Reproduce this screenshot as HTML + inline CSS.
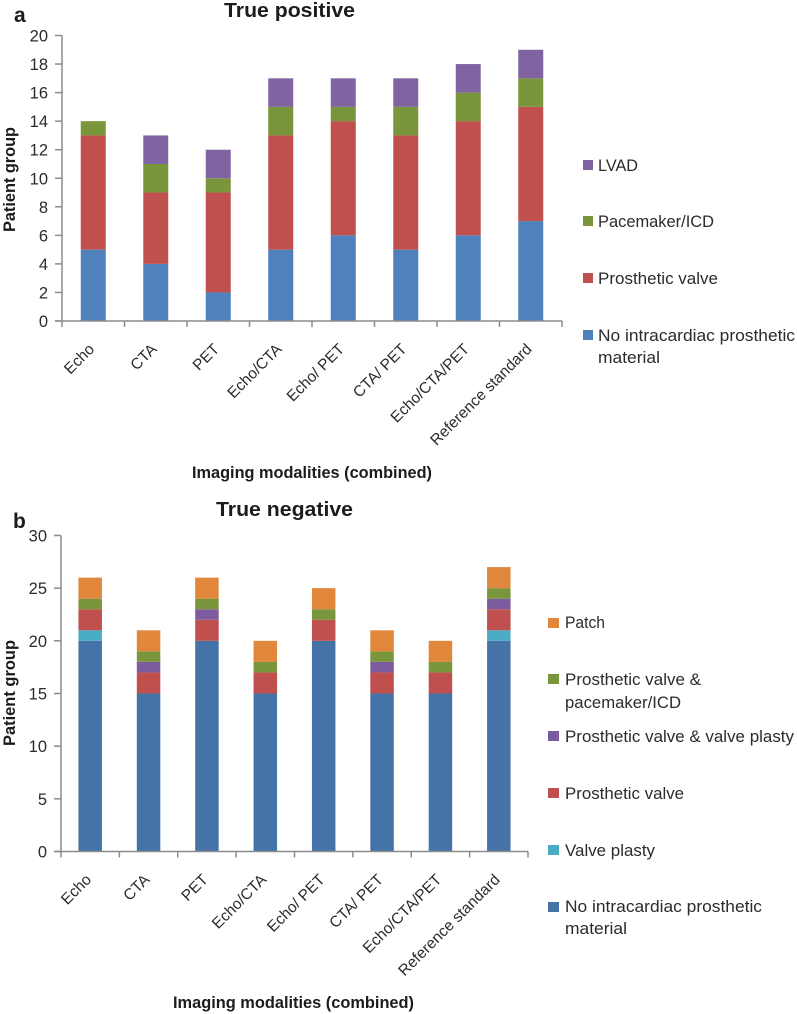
<!DOCTYPE html>
<html lang="en">
<head>
<meta charset="utf-8">
<title>True positive and true negative patient groups by imaging modality</title>
<style>
  html, body { margin: 0; padding: 0; background: #fff; }
  svg { display: block; font-family: "Liberation Sans", sans-serif; filter: blur(0.35px); }
  .leg { font-size: 16.5px; fill: #2b2b2b; }
  .bold { font-weight: bold; fill: #1c1c1c; }
  .tick { font-size: 16.5px; fill: #2b2b2b; }
  .cat { font-size: 15.5px; fill: #2b2b2b; }
</style>
</head>
<body>
<svg id="figure" xmlns="http://www.w3.org/2000/svg" width="797" height="1014" viewBox="0 0 797 1014">
  <rect x="0" y="0" width="797" height="1014" fill="#ffffff"/>

  <text class="bold" x="14" y="22" font-size="21">a</text>
  <text class="bold" x="224" y="17" font-size="20.5" textLength="131" lengthAdjust="spacingAndGlyphs">True positive</text>
  <text class="bold" transform="translate(15,232) rotate(-90)" font-size="16.5" textLength="105" lengthAdjust="spacingAndGlyphs">Patient group</text>
  <text class="bold" x="192" y="478" font-size="16.5" textLength="240" lengthAdjust="spacingAndGlyphs">Imaging modalities (combined)</text>

  <g>
    <rect x="583" y="160" width="10" height="10" fill="#8064a2"/>
    <text class="leg" x="598" y="171" textLength="40" lengthAdjust="spacingAndGlyphs">LVAD</text>
    <rect x="583" y="216" width="10" height="10" fill="#7a963c"/>
    <text class="leg" x="598" y="227" textLength="116" lengthAdjust="spacingAndGlyphs">Pacemaker/ICD</text>
    <rect x="583" y="273" width="10" height="10" fill="#c0504d"/>
    <text class="leg" x="598" y="284" textLength="120" lengthAdjust="spacingAndGlyphs">Prosthetic valve</text>
    <rect x="583" y="330" width="10" height="10" fill="#4f81bd"/>
    <text class="leg" x="598" y="341" textLength="197" lengthAdjust="spacingAndGlyphs">No intracardiac prosthetic</text>
    <text class="leg" x="598" y="363" textLength="62" lengthAdjust="spacingAndGlyphs">material</text>
  </g>

  <text class="bold" x="13" y="528" font-size="21">b</text>
  <text class="bold" x="216" y="516" font-size="20.5" textLength="137" lengthAdjust="spacingAndGlyphs">True negative</text>
  <text class="bold" transform="translate(15,746) rotate(-90)" font-size="16.5" textLength="106" lengthAdjust="spacingAndGlyphs">Patient group</text>
  <text class="bold" x="173" y="1008" font-size="16.5" textLength="241" lengthAdjust="spacingAndGlyphs">Imaging modalities (combined)</text>

  <g>
    <rect x="548" y="618" width="11" height="10" fill="#e0873c"/>
    <text class="leg" x="565" y="628" textLength="40" lengthAdjust="spacingAndGlyphs">Patch</text>
    <rect x="548" y="674" width="11" height="10" fill="#7a963c"/>
    <text class="leg" x="565" y="685" textLength="136" lengthAdjust="spacingAndGlyphs">Prosthetic valve &amp;</text>
    <text class="leg" x="565" y="708" textLength="116" lengthAdjust="spacingAndGlyphs">pacemaker/ICD</text>
    <rect x="548" y="731" width="11" height="10" fill="#7c5b9e"/>
    <text class="leg" x="565" y="742" textLength="229" lengthAdjust="spacingAndGlyphs">Prosthetic valve &amp; valve plasty</text>
    <rect x="548" y="788" width="11" height="10" fill="#c0504d"/>
    <text class="leg" x="565" y="799" textLength="119" lengthAdjust="spacingAndGlyphs">Prosthetic valve</text>
    <rect x="548" y="845" width="11" height="10" fill="#4bacc6"/>
    <text class="leg" x="565" y="856" textLength="90" lengthAdjust="spacingAndGlyphs">Valve plasty</text>
    <rect x="548" y="902" width="11" height="10" fill="#4573a7"/>
    <text class="leg" x="565" y="912" textLength="197" lengthAdjust="spacingAndGlyphs">No intracardiac prosthetic</text>
    <text class="leg" x="565" y="934" textLength="62" lengthAdjust="spacingAndGlyphs">material</text>
  </g>
</svg>

<script>
const categories = ["Echo", "CTA", "PET", "Echo/CTA", "Echo/ PET", "CTA/ PET", "Echo/CTA/PET", "Reference standard"];

const ticksA = [0, 2, 4, 6, 8, 10, 12, 14, 16, 18, 20];
const noMaterialA = [5, 4, 2, 5, 6, 5, 6, 7];
const prostheticValveA = [8, 5, 7, 8, 8, 8, 8, 8];
const pacemakerA = [1, 2, 1, 2, 1, 2, 2, 2];
const lvadA = [0, 2, 2, 2, 2, 2, 2, 2];

const ticksB = [0, 5, 10, 15, 20, 25, 30];
const noMaterialB = [20, 15, 20, 15, 20, 15, 15, 20];
const valvePlastyB = [1, 0, 0, 0, 0, 0, 0, 1];
const prostheticValveB = [2, 2, 2, 2, 2, 2, 2, 2];
const valveAndPlastyB = [0, 1, 1, 0, 0, 1, 0, 1];
const valveAndPacemakerB = [1, 1, 1, 1, 1, 1, 1, 1];
const patchB = [2, 2, 2, 2, 2, 2, 2, 2];

const seriesA = [
  { key: "no-material", color: "#4f81bd", values: noMaterialA },
  { key: "prosthetic-valve", color: "#c0504d", values: prostheticValveA },
  { key: "pacemaker", color: "#7a963c", values: pacemakerA },
  { key: "lvad", color: "#8064a2", values: lvadA }
];
const seriesB = [
  { key: "no-material", color: "#4573a7", values: noMaterialB },
  { key: "valve-plasty", color: "#4bacc6", values: valvePlastyB },
  { key: "prosthetic-valve", color: "#c0504d", values: prostheticValveB },
  { key: "valve-and-plasty", color: "#7c5b9e", values: valveAndPlastyB },
  { key: "valve-and-pacemaker", color: "#7a963c", values: valveAndPacemakerB },
  { key: "patch", color: "#e0873c", values: patchB }
];

const SVG_NS = "http://www.w3.org/2000/svg";
const root = document.getElementById("figure");

function make(parent, tag, attrs) {
  const node = document.createElementNS(SVG_NS, tag);
  for (const k in attrs) node.setAttribute(k, attrs[k]);
  parent.appendChild(node);
  return node;
}

function drawChart(prefix, cfg) {
  const maxTick = cfg.ticks[cfg.ticks.length - 1];
  const y = v => cfg.y0 - (v / maxTick) * (cfg.y0 - cfg.yTop);
  const band = (cfg.x1 - cfg.x0) / categories.length;
  const xCenter = i => cfg.x0 + band * (i + 0.5);

  const g = make(root, "g", {});
  
  

  categories.forEach((cat, i) => {
    let acc = 0;
    cfg.series.forEach(s => {
      const v = s.values[i];
      if (v > 0) {
        const bar = make(g, "rect", {
          x: xCenter(i) - cfg.barWidth / 2,
          y: y(acc + v),
          width: cfg.barWidth,
          height: y(acc) - y(acc + v),
          fill: s.color
        });
        
        
      }
      acc += v;
    });
  });

  const yAxis = make(g, "line", { x1: cfg.x0, x2: cfg.x0, y1: cfg.yTop, y2: cfg.y0, stroke: "#8c8c8c", "stroke-width": 1.5 });
  
  

  const xAxis = make(g, "line", { x1: cfg.x0 - 7, x2: cfg.x1, y1: cfg.y0, y2: cfg.y0, stroke: "#8c8c8c", "stroke-width": 1.5 });
  
  

  cfg.ticks.forEach(t => {
    const mark = make(g, "line", { x1: cfg.x0 - 7, x2: cfg.x0, y1: y(t), y2: y(t), stroke: "#8c8c8c", "stroke-width": 1.5 });
    
    

    const label = make(g, "text", { x: cfg.x0 - 14, y: y(t) + 6, "text-anchor": "end", "class": "tick" });
    label.textContent = t;
    
    
  });

  for (let i = 0; i <= categories.length; i++) {
    const xt = cfg.x0 + band * i;
    const mark = make(g, "line", { x1: xt, x2: xt, y1: cfg.y0, y2: cfg.y0 + 6, stroke: "#8c8c8c", "stroke-width": 1.5 });
    
    
  }

  categories.forEach((cat, i) => {
    const ax = xCenter(i) + 2;
    const ay = cfg.y0 + 29;
    const label = make(g, "text", {
      x: ax, y: ay, "text-anchor": "end", "class": "cat",
      transform: "rotate(-45 " + ax + " " + ay + ")"
    });
    label.textContent = cat;
    
    
  });
}

drawChart("chart-a", { series: seriesA, ticks: ticksA, x0: 62, x1: 562, y0: 321, yTop: 35.5, barWidth: 25 });
drawChart("chart-b", { series: seriesB, ticks: ticksB, x0: 61, x1: 528, y0: 851.5, yTop: 535.5, barWidth: 23.5 });
</script>
</body>
</html>
